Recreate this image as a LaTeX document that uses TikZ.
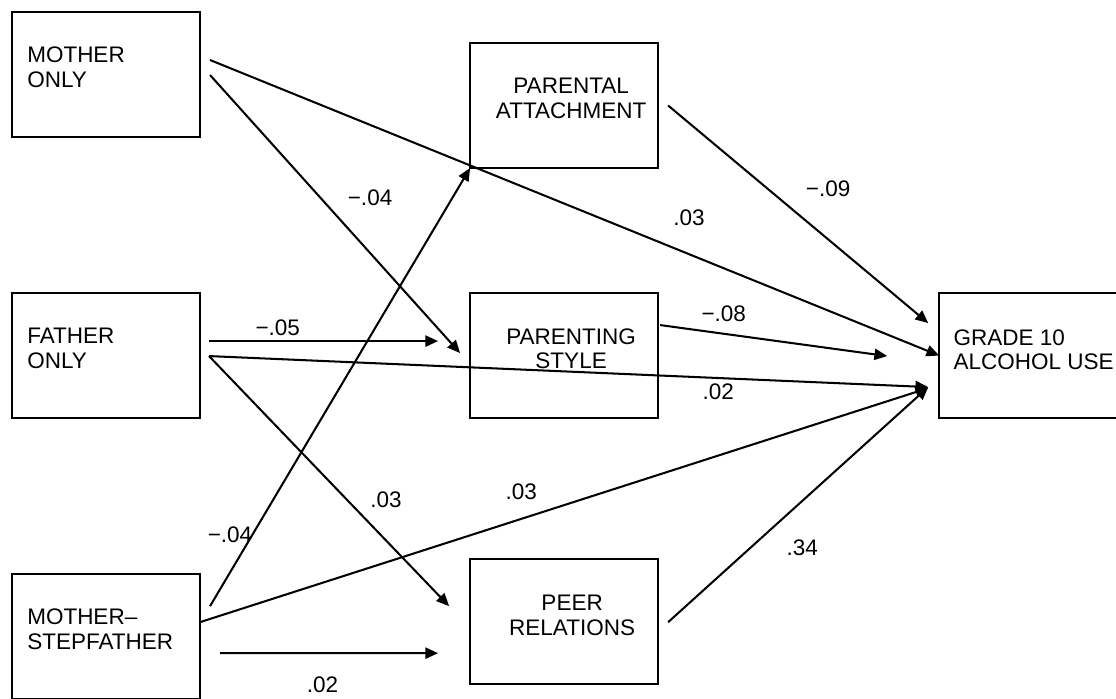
\documentclass[tikz,border=0pt]{standalone}
\usepackage{fontspec}
\setmainfont{Liberation Sans}
\usetikzlibrary{arrows.meta, positioning}

\begin{document}
\begin{tikzpicture}[x=0.025cm, y=-0.025cm, font=\fontsize{16pt}{17.5pt}\selectfont]
\tikzstyle{varbox}=[rectangle, draw, line width=1.5pt, outer sep=0pt, minimum width=4.7cm, minimum height=3.125cm]
\tikzstyle{boxtext}=[inner sep=0pt, align=left]
\tikzstyle{effect}=[line width=1.45pt, -{Triangle[length=3.2mm, width=2.8mm]}]
\tikzstyle{coef}=[inner sep=0pt]
    \clip (0,0) rectangle (1116,698);

    \node (mother) [varbox] at (106,74.5) {};
    \node (father) [varbox, below=3.9cm of mother] {};
    \node (stepfam) [varbox, below=3.9cm of father] {};
    \node (style) [varbox, right=6.75cm of father] {};
    \node (attach) [varbox, above=3.125cm of style] {};
    \node (peer) [varbox, below=3.525cm of style] {};
    \node (alcohol) [varbox, right=7.025cm of style] {};

    \node (mother-t) [boxtext, below right=0.875cm and 0.375cm of mother.north west] {MOTHER\\ONLY};
    \node (father-t) [boxtext, below right=0.875cm and 0.375cm of father.north west] {FATHER\\ONLY};
    \node (stepfam-t) [boxtext, below right=0.86cm and 0.375cm of stepfam.north west] {MOTHER–\\STEPFATHER};
    \node (attach-t) [boxtext, align=center, below=0.875cm of attach.north, xshift=0.175cm] {PARENTAL\\ATTACHMENT};
    \node (style-t) [boxtext, align=center, below=0.875cm of style.north, xshift=0.175cm] {PARENTING\\STYLE};
    \node (peer-t) [boxtext, align=center, below=0.9cm of peer.north, xshift=0.2cm] {PEER\\RELATIONS};
    \node (alcohol-t) [boxtext, below right=0.9cm and 0.35cm of alcohol.north west] {GRADE 10\\ALCOHOL USE};

    % family structure -> mediators and outcome
    \draw [effect] ([shift={(10,-14.5)}]mother.east) -- (alcohol.west) node [coef, pos=0.657, shift={(0,-36)}] {.03};
    \draw [effect] ([shift={(10,0.5)}]mother.east) -- ([shift={(-10,-2.5)}]style.west) node [coef, pos=0.5, shift={(35,-16)}] {−.04};
    \draw [effect] ([shift={(9,-14.5)}]father.east) -- ([shift={(-32,-14.5)}]style.west) node [coef, pos=0.3, shift={(0,-13)}] {−.05};
    \draw [effect] ([shift={(9,0.5)}]father.east) -- ([shift={(-11,31.5)}]alcohol.west) node [coef, pos=0.708, shift={(0,14)}] {.02};
    \draw [effect] ([shift={(9,0.5)}]father.east) -- ([shift={(-21,-15.5)}]peer.west) node [coef, pos=0.6, shift={(33,-6)}] {.03};
    \draw [effect] ([shift={(10,-30.5)}]stepfam.east) -- (attach.south west) node [coef, pos=0.2, shift={(-32,16)}] {−.04};
    \draw [effect] ([shift={(0,-14.5)}]stepfam.east) -- ([shift={(-11,32.5)}]alcohol.west) node [coef, pos=0.441, shift={(0,-27)}] {.03};
    \draw [effect] ([shift={(20,16.5)}]stepfam.east) -- ([shift={(-32,31.5)}]peer.west) node [coef, pos=0.47, shift={(0,32)}] {.02};

    % mediators -> outcome
    \draw [effect] ([shift={(10,0)}]attach.east) -- ([shift={(-11,-32.5)}]alcohol.west) node [coef, pos=0.5, shift={(30,-26)}] {−.09};
    \draw [effect] ([shift={(2,-30.5)}]style.east) -- ([shift={(-52,0.5)}]alcohol.west) node [coef, pos=0.28, shift={(0,-20)}] {−.08};
    \draw [effect] ([shift={(10,0.5)}]peer.east) -- ([shift={(-11,31.5)}]alcohol.west) node [coef, pos=0.5, shift={(4,43.5)}] {.34};
\end{tikzpicture}
\end{document}
